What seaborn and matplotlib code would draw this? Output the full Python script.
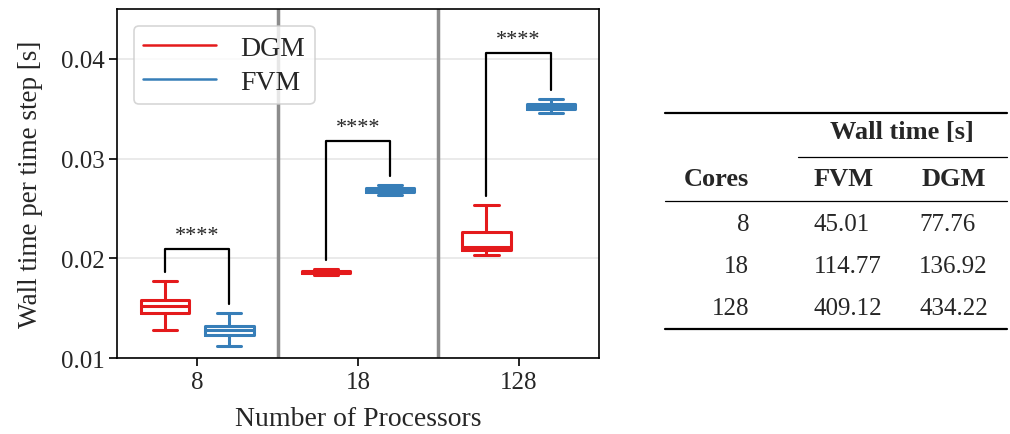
import numpy as np
import pandas as pd
import matplotlib
matplotlib.use("Agg")
import matplotlib.pyplot as plt
from matplotlib.lines import Line2D
import seaborn as sns

# box summaries: [whisker low, q1, median, q3, whisker high]
processors = ["8", "18", "128"]
methods = ["DGM", "FVM"]
dgm_stats = [[0.0128, 0.0145, 0.0152, 0.0158, 0.0177],
             [0.0183, 0.0185, 0.0186, 0.0187, 0.0189],
             [0.0203, 0.0208, 0.0211, 0.0226, 0.0253]]
fvm_stats = [[0.0112, 0.0123, 0.0128, 0.0132, 0.0145],
             [0.0263, 0.0266, 0.0268, 0.0270, 0.0274],
             [0.0346, 0.0350, 0.0353, 0.0355, 0.0360]]
bracket_tops = [0.0209, 0.0318, 0.0406]
stars = ["****", "****", "****"]

# table on the right
table_cores = ["8", "18", "128"]
table_fvm = ["45.01", "114.77", "409.12"]
table_dgm = ["77.76", "136.92", "434.22"]

rows = []
for i, p in enumerate(processors):
    for m, stats in zip(methods, [dgm_stats, fvm_stats]):
        for v in stats[i]:
            rows.append({"Processors": p, "Method": m, "time": v})
df = pd.DataFrame(rows)

sns.set_style("white")
plt.rcParams["font.family"] = ["Liberation Serif", "DejaVu Serif"]

fig = plt.figure(figsize=(10.1, 4.35), dpi=100)
ax = fig.add_axes([0.1158, 0.1747, 0.4772, 0.8023])

colors = {"DGM": "#e41a1c", "FVM": "#377eb8"}
sns.boxplot(data=df, x="Processors", y="time", hue="Method",
            order=processors, hue_order=methods, palette=colors,
            fill=False, whis=(0, 100), gap=0.25, linewidth=2.2, ax=ax)

ax.set_xlim(-0.5, 2.5)
ax.set_ylim(0.01, 0.045)
ax.set_yticks([0.01, 0.02, 0.03, 0.04])
ax.set_yticklabels(["0.01", "0.02", "0.03", "0.04"])
ax.yaxis.grid(True, color="#e6e6e6", lw=1.2)
ax.set_axisbelow(True)
for s in ax.spines.values():
    s.set_color("black")
    s.set_linewidth(1.2)
ax.tick_params(axis="both", labelsize=18, length=6, width=1.2, color="black",
               left=True, bottom=True, pad=3)
ax.set_xlabel("Number of Processors", fontsize=20, labelpad=10)
ax.set_ylabel("Wall time per time step [s]", fontsize=19.5, labelpad=13)

for xs in [0.5, 1.5]:
    ax.axvline(xs, color="#8c8c8c", lw=2.5, zorder=1)

# significance brackets
for i in range(len(processors)):
    x1, x2 = i - 0.2, i + 0.2
    y1 = dgm_stats[i][4] + 0.0009
    y2 = fvm_stats[i][4] + 0.0009
    h = bracket_tops[i]
    ax.plot([x1, x1, x2, x2], [y1, h, h, y2], color="black", lw=1.6)
    ax.text(i, h + 0.0004, stars[i], ha="center", va="bottom", fontsize=16)

handles = [Line2D([], [], color=colors[m], lw=1.8) for m in methods]
leg = ax.legend(handles, methods, loc="upper left", fontsize=20, frameon=True,
                fancybox=True, handlelength=2.6, handletextpad=0.9,
                borderpad=0.35, labelspacing=0.3, borderaxespad=0.6)
leg.get_frame().set_edgecolor("#cccccc")
leg.get_frame().set_linewidth(1.2)

# table drawn as text in figure pixels
W, H = 1010, 435
def fx(px):
    return px / W
def fy(py):
    return 1 - py / H

def rule(x0, x1, y, lw):
    fig.add_artist(Line2D([fx(x0), fx(x1)], [fy(y), fy(y)], color="black", lw=lw))

rule(665, 1007, 114, 1.6)
rule(798, 1007, 158, 0.9)
rule(665, 1007, 202, 0.9)
rule(665, 1007, 330, 1.6)

fig.text(fx(902), fy(133), "Wall time [s]", ha="center", va="center",
         fontsize=19, fontweight="bold")
fig.text(fx(749), fy(180), "Cores", ha="right", va="center", fontsize=19, fontweight="bold")
fig.text(fx(844), fy(180), "FVM", ha="center", va="center", fontsize=19, fontweight="bold")
fig.text(fx(954), fy(180), "DGM", ha="center", va="center", fontsize=19, fontweight="bold")
for k, (c, a, b) in enumerate(zip(table_cores, table_fvm, table_dgm)):
    yy = 225 + k * 42
    fig.text(fx(749), fy(yy), c, ha="right", va="center", fontsize=18)
    fig.text(fx(814), fy(yy), a, ha="left", va="center", fontsize=18)
    fig.text(fx(919), fy(yy), b, ha="left", va="center", fontsize=18)

fig.savefig("out.png", dpi=100)
